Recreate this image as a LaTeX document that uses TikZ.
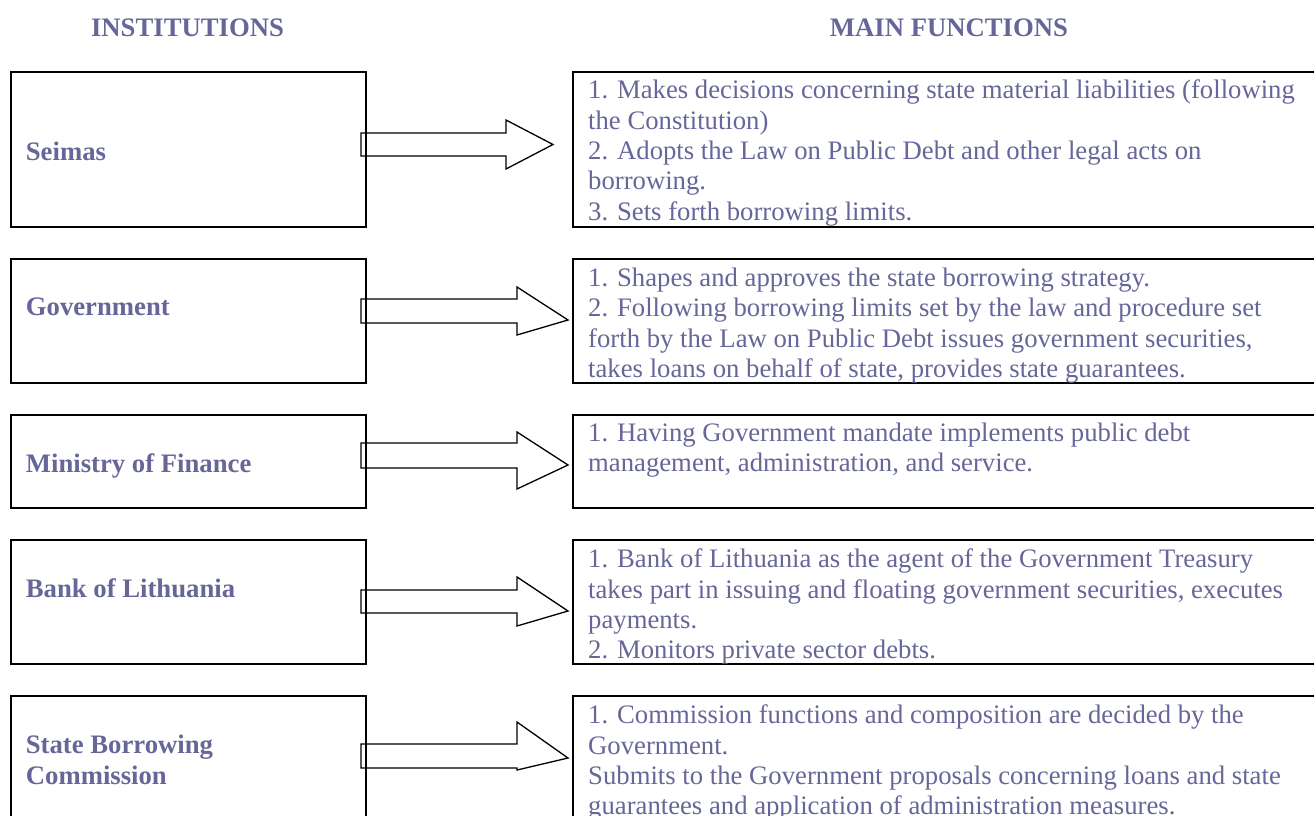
\documentclass[tikz,border=0pt]{standalone}
\usepackage{fontspec}
\setmainfont{Liberation Serif}
\usetikzlibrary{calc,backgrounds}
\definecolor{inktext}{RGB}{102,102,153}
\tikzset{
  frame/.style={draw=black, line width=2pt, inner sep=0pt, outer sep=0pt, anchor=north west},
  heading/.style={font=\bfseries\fontsize{26.7}{30.4}\selectfont, text=inktext, inner sep=0pt, anchor=base},
  instlabel/.style={font=\bfseries\fontsize{26.7}{30.4}\selectfont, text=inktext, inner sep=0pt, anchor=base west, align=left},
  functext/.style={font=\fontsize{26.7}{30.4}\selectfont, text=inktext, inner sep=0pt, anchor=north west, align=left},
  blockarrow/.style={draw=black, line width=1.3pt, fill=white, line join=miter},
}
% block arrow from box #1 to box #2:
% #3/#4 shaft top/bottom, #5/#6 head top/bottom, #7 tip y, #8 gap before target, #9 head length
\newcommand\blockarrow[9]{%
  \draw[blockarrow] let \p1=(#1.east), \p2=(#2.west) in
    (\x1-5pt,-#3pt) -- (\x2-#8pt-#9pt,-#3pt) -- (\x2-#8pt-#9pt,-#5pt) -- (\x2-#8pt,-#7pt)
    -- (\x2-#8pt-#9pt,-#6pt) -- (\x2-#8pt-#9pt,-#4pt) -- (\x1-5pt,-#4pt) -- cycle;}
\begin{document}
\begin{tikzpicture}[x=1pt,y=-1pt]
\useasboundingbox (0,0) rectangle (1314,816);
\clip (0,0) rectangle (1314,816);

% column headings
\node[heading] (hinst) at (187.5,36.5) {INSTITUTIONS};
\node[heading] (hfunc) at (949,36.5) {MAIN FUNCTIONS};

% institution boxes
\node[frame, minimum width=355pt, minimum height=155pt] (seimas) at (11,72) {};
\node[frame, minimum width=355pt, minimum height=124pt] (gov) at (11,259) {};
\node[frame, minimum width=355pt, minimum height=93pt] (minfin) at (11,415) {};
\node[frame, minimum width=355pt, minimum height=124pt] (bank) at (11,540) {};
\node[frame, minimum width=355pt, minimum height=160pt] (sbc) at (11,696) {};

% function boxes (run past the right edge)
\node[frame, minimum width=780pt, minimum height=155pt] (f1) at (573,72) {};
\node[frame, minimum width=780pt, minimum height=124pt] (f2) at (573,259) {};
\node[frame, minimum width=780pt, minimum height=93pt] (f3) at (573,415) {};
\node[frame, minimum width=780pt, minimum height=124pt] (f4) at (573,540) {};
\node[frame, minimum width=780pt, minimum height=160pt] (f5) at (573,696) {};

% institution names
\node[instlabel] (lseimas) at (25.7,160) {Seimas};
\node[instlabel] (lgov) at (25.7,315) {Government};
\node[instlabel] (lminfin) at (25.7,472) {Ministry of Finance};
\node[instlabel] (lbank) at (25.7,597) {Bank of Lithuania};
\node[instlabel, anchor=north west] (lsbc) at (25.7,735) {State Borrowing\\Commission};

% function descriptions
\node[functext] (t1) at (588,79.7) {1. Makes decisions concerning state material liabilities (following\\the Constitution)\\2. Adopts the Law on Public Debt and other legal acts on\\borrowing.\\3. Sets forth borrowing limits.};
\node[functext] (t2) at (588,267.7) {1. Shapes and approves the state borrowing strategy.\\2. Following borrowing limits set by the law and procedure set\\forth by the Law on Public Debt issues government securities,\\takes loans on behalf of state, provides state guarantees.};
\node[functext] (t3) at (588,422.7) {1. Having Government mandate implements public debt\\management, administration, and service.};
\node[functext] (t4) at (588,548.7) {1. Bank of Lithuania as the agent of the Government Treasury\\takes part in issuing and floating government securities, executes\\payments.\\2. Monitors private sector debts.};
\node[functext] (t5) at (588,704.7) {1. Commission functions and composition are decided by the\\Government.\\Submits to the Government proposals concerning loans and state\\guarantees and application of administration measures.};

% arrows, behind the box frames
\begin{pgfonlayer}{background}
\blockarrow{seimas}{f1}{133}{156}{120}{169}{144.5}{20}{47}
\blockarrow{gov}{f2}{299}{323}{287}{335}{320}{5}{51}
\blockarrow{minfin}{f3}{443}{468}{432}{489}{465}{5}{51}
\blockarrow{bank}{f4}{590}{613}{577}{626}{611}{5}{51}
\blockarrow{sbc}{f5}{744}{768}{722}{770}{758}{5}{51}
\end{pgfonlayer}
\end{tikzpicture}
\end{document}
